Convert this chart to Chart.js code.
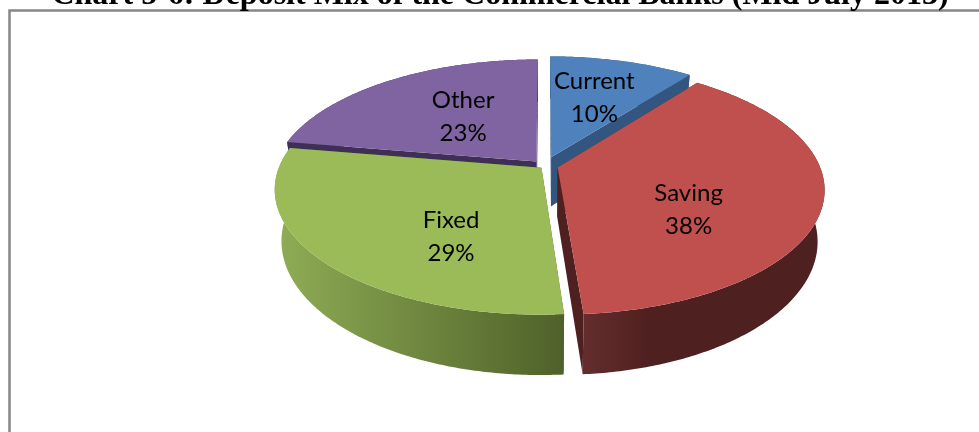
<!DOCTYPE html>
<html>
<head>
<meta charset="utf-8">
<style>
  html, body { margin: 0; padding: 0; background: #fff; }
  #wrap { width: 979px; height: 432px; overflow: hidden; }
</style>
<script src="https://cdn.jsdelivr.net/npm/chart.js@4/dist/chart.umd.js"></script>
</head>
<body>
<div id="wrap"><canvas id="chart" width="979" height="432"></canvas></div>
<script>
const chartTitle = 'Chart 5-6: Deposit Mix of the Commercial Banks (Mid July 2013)';
const categories = ['Current', 'Saving', 'Fixed', 'Other'];
const shares = [10, 38, 29, 23];

// Slice styling
const topColors = ['#4F81BD', '#C0504D', '#9BBB59', '#8064A2'];
const wallColors = ['#32567F', '#4E201F', '#4F6129', '#3F2F56'];
const rimStops = [
  [[0, '#32567F'], [1, '#32567F']],
  [[0, '#642E2D'], [0.28, '#4E201F'], [1, '#4E201F']],
  [[0, '#8FAD55'], [1, '#4F6129']],
  [[0, '#3F2F56'], [1, '#3F2F56']]
];
const explode = [20, 13, 5, 13];
// Label block centre relative to the slice tip, as a fraction of the radius
const labelShift = [[0.165, -0.227], [0.5, 0.162], [-0.345, 0.262], [-0.28, -0.17]];

// Tilted-disc view
const SQUASH = 0.462, PERSPECTIVE = 0.1726, THICKNESS = 0.19, BASE_SHRINK = 0.025;

function project(el, u, v, z) {
  const s = 1 / (1 - PERSPECTIVE * v);
  const R = el.outerRadius;
  const x = R * u * s * (1 - BASE_SHRINK * z);
  const y = R * SQUASH * v * s + R * THICKNESS * s * z;
  return [el.x + x, el.y + y];
}

// Slight yaw of the camera: angles drift a little towards the far side of the turn
const viewAngle = t => t + 0.052 * Math.sqrt(Math.abs(Math.sin(t / 2)));

function sliceGeometry(el) {
  const a0 = el.startAngle + Math.PI / 2;
  const a1 = el.endAngle + Math.PI / 2;
  const mid = (a0 + a1) / 2;
  const off = el.options.offset / el.outerRadius;
  const ou = off * Math.sin(mid), ov = -off * Math.cos(mid);
  const point = (t, z) => {
    const w = viewAngle(t);
    return project(el, ou + Math.sin(w), ov - Math.cos(w), z);
  };
  const tip = z => project(el, ou, ov, z);
  return { a0, a1, mid, point, tip };
}

function tracePoints(ctx, pts) {
  ctx.beginPath();
  pts.forEach((p, i) => (i ? ctx.lineTo(p[0], p[1]) : ctx.moveTo(p[0], p[1])));
  ctx.closePath();
}

function paintSlice(ctx, el, i) {
  const g = sliceGeometry(el);
  const steps = Math.max(8, Math.ceil((g.a1 - g.a0) * 90));
  const top = [], base = [];
  for (let k = 0; k <= steps; k++) {
    const t = g.a0 + (g.a1 - g.a0) * k / steps;
    top.push(g.point(t, 0));
    base.push(g.point(t, 1));
  }
  // cut faces
  ctx.fillStyle = wallColors[i];
  [[top[0], base[0]], [top[steps], base[steps]]].forEach(([a, b]) => {
    tracePoints(ctx, [g.tip(0), a, b, g.tip(1)]);
    ctx.fill();
  });
  // outer rim
  const xs = top.concat(base).map(p => p[0]);
  const grad = ctx.createLinearGradient(Math.min(...xs), 0, Math.max(...xs), 0);
  rimStops[i].forEach(([pos, col]) => grad.addColorStop(pos, col));
  ctx.fillStyle = grad;
  tracePoints(ctx, top.concat(base.slice().reverse()));
  ctx.fill();
  // top face
  ctx.fillStyle = el.options.backgroundColor;
  tracePoints(ctx, [g.tip(0)].concat(top));
  ctx.fill();
}

const PieController = Chart.registry.getController('pie');

class Pie3dController extends PieController {
  draw() {
    const ctx = this.chart.ctx;
    const arcs = this._cachedMeta.data;
    // far slices first
    const order = arcs.map((el, i) => {
      const g = sliceGeometry(el);
      return { el, i, depth: -Math.cos(g.mid) };
    }).sort((a, b) => a.depth - b.depth);
    order.forEach(({ el, i }) => paintSlice(ctx, el, i));
  }
}
Pie3dController.id = 'pie3d';
Chart.register(Pie3dController);

const framePlugin = {
  id: 'frame',
  beforeDraw(chart) {
    const ctx = chart.ctx;
    ctx.save();
    ctx.fillStyle = '#fff';
    ctx.fillRect(0, 0, chart.width, chart.height);
    ctx.strokeStyle = '#868686';
    ctx.lineWidth = 2.5;
    ctx.strokeRect(9.5, 10.5, 1000, 500);
    ctx.fillStyle = '#000';
    ctx.font = 'bold 32px "Liberation Serif"';
    ctx.textAlign = 'center';
    ctx.textBaseline = 'alphabetic';
    ctx.fillText(chartTitle, 500, 4);
    ctx.restore();
  }
};

const sliceLabels = {
  id: 'sliceLabels',
  afterDatasetsDraw(chart) {
    const ctx = chart.ctx;
    ctx.save();
    ctx.fillStyle = '#000';
    ctx.font = '24px Lato';
    ctx.textAlign = 'center';
    ctx.textBaseline = 'middle';
    chart.getDatasetMeta(0).data.forEach((el, i) => {
      const tip = sliceGeometry(el).tip(0);
      const x = tip[0] + labelShift[i][0] * el.outerRadius;
      const y = tip[1] + labelShift[i][1] * el.outerRadius;
      ctx.fillText(categories[i], x, y - 16.5);
      ctx.fillText(shares[i] + '%', x, y + 16.5);
    });
    ctx.restore();
  }
};

new Chart(document.getElementById('chart'), {
  type: 'pie3d',
  data: {
    labels: categories,
    datasets: [{ data: shares, backgroundColor: topColors, offset: explode, borderWidth: 0 }]
  },
  options: {
    responsive: false,
    animation: false,
    events: [],
    radius: 262,
    layout: { padding: { left: 111, right: 0, top: 0, bottom: 100 } },
    plugins: { legend: { display: false }, tooltip: { enabled: false } }
  },
  plugins: [framePlugin, sliceLabels]
});
</script>
</body>
</html>
